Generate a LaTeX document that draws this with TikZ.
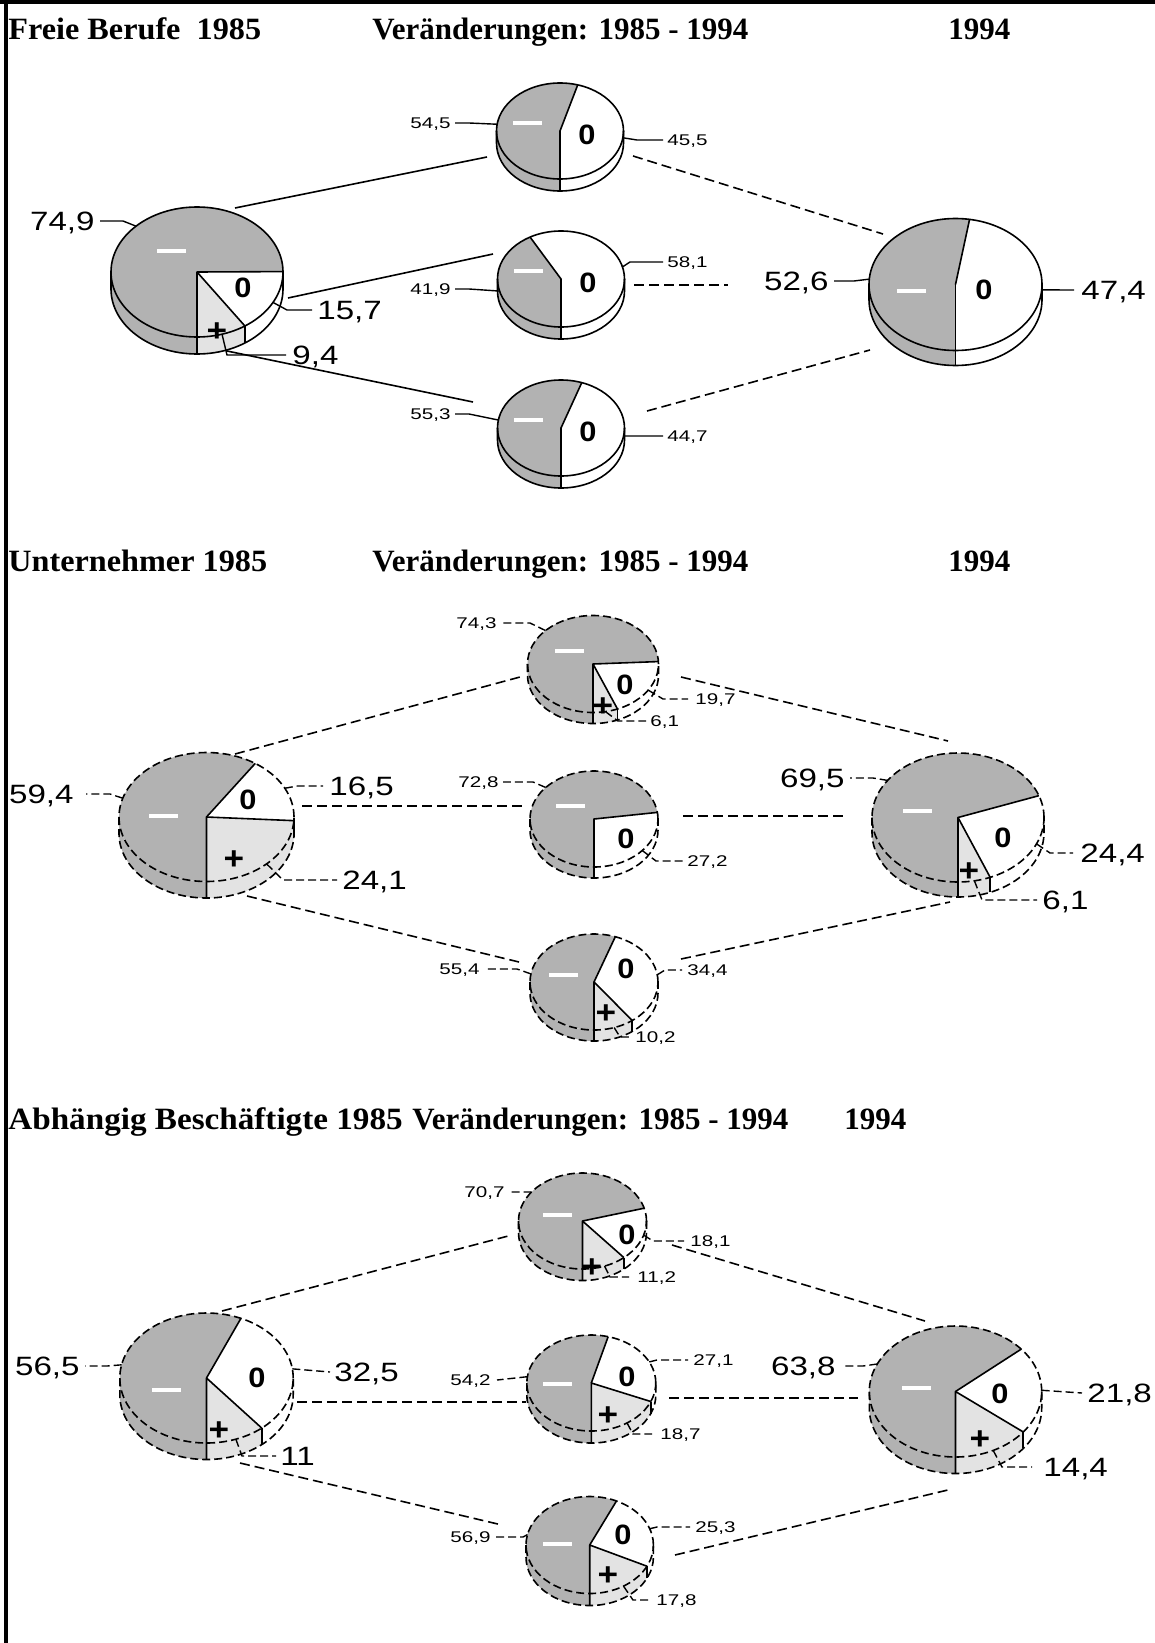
\documentclass[tikz,border=0pt]{standalone}
\usepackage{fontspec}
\setmainfont{Liberation Serif}
\newfontfamily\ttlw[FakeStretch=1.04]{Liberation Serif}
\newfontfamily\ttlww[FakeStretch=1.07]{Liberation Serif}
\newfontfamily\lblfont[FakeStretch=1.25]{Liberation Sans}
\newfontfamily\smlfont[FakeStretch=1.33]{Liberation Sans}
\newfontfamily\glyfont[FakeStretch=1.1]{Liberation Sans}
\usetikzlibrary{calc}
\definecolor{pgray}{RGB}{178,178,178}
\definecolor{plight}{RGB}{227,227,227}
\tikzset{
  ttl/.style={anchor=base west, inner sep=0, font=\fontsize{15.5}{18}\selectfont\bfseries},
  ttlA/.style={ttl, font=\ttlw\fontsize{15.5}{18}\selectfont\bfseries},
  ttlB/.style={ttl, font=\ttlww\fontsize{15.5}{18}\selectfont\bfseries},
  biglbl/.style={inner sep=0, text depth=0pt, font=\lblfont\fontsize{13.25}{15}\selectfont},
  smllbl/.style={inner sep=0, text depth=0pt, font=\smlfont\fontsize{7.75}{9}\selectfont},
  glyph/.style={inner sep=0, text depth=0pt, font=\glyfont\bfseries\fontsize{14}{16}\selectfont},
  pglyph/.style={inner sep=0, text depth=0pt, font=\glyfont\bfseries\fontsize{16}{18}\selectfont},
  mbar/.style={fill=white, inner sep=0, minimum width=14.5pt, minimum height=1.8pt},
  pline/.style={line width=0.8pt, line join=round},
  pdash/.style={dash pattern=on 4pt off 2pt},
  conn/.style={line width=0.8pt},
  dconn/.style={line width=0.8pt, dash pattern=on 5pt off 2.5pt},
  ld/.style={line width=0.7pt},
  dld/.style={line width=0.7pt, dash pattern=on 4pt off 2pt},
}
\newcommand\sidepart[7]{%
  \fill[#4] ($(#1)+(#2:#5 and #6)$) arc[start angle=#2, end angle=#3, x radius=#5, y radius=#6]
    -- ++(0,-#7) arc[start angle=#3, end angle=#2, x radius=#5, y radius=#6] -- cycle;}
% #1 name #2 cx #3 cy #4 a #5 b #6 depth #7 plus% #8 zero% #9 outline style
\newcommand\piechart[9]{%
  \pgfmathsetmacro\pA{-90+3.6*#7}%
  \pgfmathsetmacro\pB{\pA+3.6*#8}%
  \coordinate (#1) at (#2,-#3);
  \sidepart{#1}{-180}{-90}{pgray}{#4}{#5}{#6}
  \ifdim #7pt>0pt \pgfmathsetmacro\pAc{min(\pA,0)}\sidepart{#1}{-90}{\pAc}{plight}{#4}{#5}{#6}\fi
  \ifdim \pA pt<0pt \pgfmathsetmacro\pBc{min(\pB,0)}\sidepart{#1}{\pA}{\pBc}{white}{#4}{#5}{#6}\fi
  \ifdim \pB pt<0pt \sidepart{#1}{\pB}{0}{pgray}{#4}{#5}{#6}\fi
  \fill[pgray] (#1) -- ($(#1)+(\pB:#4 and #5)$) arc[start angle=\pB, end angle=270, x radius=#4, y radius=#5] -- cycle;
  \fill[white] (#1) -- ($(#1)+(\pA:#4 and #5)$) arc[start angle=\pA, end angle=\pB, x radius=#4, y radius=#5] -- cycle;
  \ifdim #7pt>0pt \fill[plight] (#1) -- ($(#1)+(-90:#4 and #5)$) arc[start angle=-90, end angle=\pA, x radius=#4, y radius=#5] -- cycle;\fi
  \draw[pline] ($(#1)+(0,-#5)+(0,-#6)$) -- ($(#1)+(0,-#5)$) -- (#1) -- ($(#1)+(\pA:#4 and #5)$);
  \draw[pline] (#1) -- ($(#1)+(\pB:#4 and #5)$);
  \ifdim \pA pt<0pt \draw[pline] ($(#1)+(\pA:#4 and #5)$) -- ++(0,-#6);\fi
  \ifdim \pB pt<0pt \draw[pline] ($(#1)+(\pB:#4 and #5)$) -- ++(0,-#6);\fi
  \draw[pline,#9] (#1) ellipse [x radius=#4, y radius=#5];
  \draw[pline,#9] ($(#1)+(-#4,0)$) -- ++(0,-#6) arc[start angle=180, end angle=360, x radius=#4, y radius=#5] -- ++(0,#6);
  \pgfmathsetmacro\mM{(\pB+270)/2}%
  \pgfmathsetmacro\mZ{(\pA+\pB)/2}%
  \pgfmathsetmacro\mP{(-90+\pA)/2}%
  \coordinate (#1-m) at ($(#1)+(\mM:#4 and #5)$);
  \coordinate (#1-z) at ($(#1)+(\mZ:#4 and #5)$);
  \coordinate (#1-p) at ($(#1)+(\mP:#4 and #5)$);
}
\begin{document}
\begin{tikzpicture}[x=0.5pt,y=0.5pt]
\useasboundingbox (0,0) rectangle (1155,-1643);
\fill[white] (0,0) rectangle (1155,-1643);
\draw[line width=2pt] (0,-2) -- (1155,-2);
\draw[line width=2pt] (6,0) -- (6,-1643);

% titles
\node[ttlA] (t1a) at (8,-40) {Freie Berufe\ \ 1985};
\node[ttl] (t1b) at (372,-40) {Veränderungen: 1985 - 1994};
\node[ttl] (t1c) at (948,-40) {1994};
\node[ttlA] (t2a) at (8,-571) {Unternehmer 1985};
\node[ttl] (t2b) at (372,-571) {Veränderungen: 1985 - 1994};
\node[ttl] (t2c) at (948,-571) {1994};
\node[ttlB] (t3a) at (8,-1129) {Abhängig Beschäftigte 1985};
\node[ttl] (t3b) at (412,-1129) {Veränderungen: 1985 - 1994};
\node[ttl] (t3c) at (844,-1129) {1994};

% pies
\piechart{aL}{197}{272}{86}{65}{17}{9.4}{15.7}{solid}
\piechart{aT}{560}{131}{63.5}{48}{12}{0}{45.5}{solid}
\piechart{aM}{561}{279}{63.5}{48}{12}{0}{58.1}{solid}
\piechart{aB}{561}{428}{63.5}{48}{12}{0}{44.7}{solid}
\piechart{aR}{955.5}{284.5}{86.5}{66}{15}{0}{47.4}{solid}
\piechart{bL}{206.5}{817}{87.5}{64.5}{16.5}{24.1}{16.5}{pdash}
\piechart{bT}{593}{664}{65.5}{48.5}{11}{6.1}{19.7}{pdash}
\piechart{bM}{594}{819}{64}{48}{11}{0}{27.2}{pdash}
\piechart{bB}{594}{982}{64}{48}{11}{10.2}{34.4}{pdash}
\piechart{bR}{958}{817.5}{86}{64.5}{15}{6.1}{24.4}{pdash}
\piechart{cL}{206.5}{1378}{86.7}{65}{16.5}{11}{32.5}{pdash}
\piechart{cT}{582.5}{1221}{64}{48}{11.5}{11.2}{18.1}{pdash}
\piechart{cM}{591.3}{1383}{64.5}{48}{12}{18.7}{27.1}{pdash}
\piechart{cB}{589.7}{1545}{63.7}{48.5}{12}{17.8}{25.3}{pdash}
\piechart{cR}{955.5}{1391.5}{86.2}{65.5}{16.5}{14.4}{21.8}{pdash}

% slice glyphs
\node[mbar] (aL-g1) at (171,-251) {};
\node[glyph] (aL-g2) at (243,-288) {0};
\node[pglyph] (aL-g3) at (217,-332) {+};
\node[mbar] (aT-g1) at (527,-123) {};
\node[glyph] (aT-g2) at (587,-135) {0};
\node[mbar] (aM-g1) at (528,-271) {};
\node[glyph] (aM-g2) at (588,-283) {0};
\node[mbar] (aB-g1) at (528,-420) {};
\node[glyph] (aB-g2) at (588,-432) {0};
\node[mbar] (aR-g1) at (911.5,-291) {};
\node[glyph] (aR-g2) at (984,-290) {0};

\node[mbar] (bL-g1) at (163.5,-816) {};
\node[glyph] (bL-g2) at (248,-800) {0};
\node[pglyph] (bL-g3) at (234,-860) {+};
\node[mbar] (bT-g1) at (569.5,-651) {};
\node[glyph] (bT-g2) at (625,-685) {0};
\node[pglyph] (bT-g3) at (603,-707) {+};
\node[mbar] (bM-g1) at (570,-806) {};
\node[glyph] (bM-g2) at (626,-839) {0};
\node[mbar] (bB-g1) at (563,-975) {};
\node[glyph] (bB-g2) at (626,-969) {0};
\node[pglyph] (bB-g3) at (606,-1014) {+};
\node[mbar] (bR-g1) at (917.5,-811) {};
\node[glyph] (bR-g2) at (1003,-838) {0};
\node[pglyph] (bR-g3) at (969,-872) {+};

\node[mbar] (cL-g1) at (166,-1390) {};
\node[glyph] (cL-g2) at (257,-1378) {0};
\node[pglyph] (cL-g3) at (219,-1431) {+};
\node[mbar] (cT-g1) at (557.5,-1215) {};
\node[glyph] (cT-g2) at (627,-1235) {0};
\node[pglyph] (cT-g3) at (592,-1268) {+};
\node[mbar] (cM-g1) at (557.5,-1384) {};
\node[glyph] (cM-g2) at (627,-1377) {0};
\node[pglyph] (cM-g3) at (608,-1416) {+};
\node[mbar] (cB-g1) at (557.5,-1544) {};
\node[glyph] (cB-g2) at (623,-1535) {0};
\node[pglyph] (cB-g3) at (608,-1576) {+};
\node[mbar] (cR-g1) at (916,-1388) {};
\node[glyph] (cR-g2) at (1000,-1394) {0};
\node[pglyph] (cR-g3) at (980,-1440) {+};

% connector end points
\coordinate (aL-c1) at (235,-208);  \coordinate (aT-c1) at (487,-157);
\coordinate (aL-c2) at (288,-298);  \coordinate (aM-c1) at (493,-254);
\coordinate (aL-c3) at (227,-351);  \coordinate (aB-c1) at (473,-402);
\coordinate (aT-c2) at (633,-156);  \coordinate (aR-c1) at (883,-234);
\coordinate (aM-c2) at (634,-285);  \coordinate (aR-c2) at (728,-285);
\coordinate (aB-c2) at (647,-411);  \coordinate (aR-c3) at (870,-350);
\draw[conn] (aL-c1) -- (aT-c1);
\draw[conn] (aL-c2) -- (aM-c1);
\draw[conn] (aL-c3) -- (aB-c1);
\draw[dconn] (aT-c2) -- (aR-c1);
\draw[dconn] (aM-c2) -- (aR-c2);
\draw[dconn] (aB-c2) -- (aR-c3);

\coordinate (bL-c1) at (235,-754);  \coordinate (bT-c1) at (520,-677);
\coordinate (bL-c2) at (302,-806);  \coordinate (bM-c1) at (524,-806);
\coordinate (bL-c3) at (247,-896);  \coordinate (bB-c1) at (519,-962);
\coordinate (bT-c2) at (681,-677);  \coordinate (bR-c1) at (948,-741);
\coordinate (bM-c2) at (683,-816);  \coordinate (bR-c2) at (847,-816);
\coordinate (bB-c2) at (681,-959);  \coordinate (bR-c3) at (950,-902);
\draw[dconn] (bL-c1) -- (bT-c1);
\draw[dconn] (bL-c2) -- (bM-c1);
\draw[dconn] (bL-c3) -- (bB-c1);
\draw[dconn] (bT-c2) -- (bR-c1);
\draw[dconn] (bM-c2) -- (bR-c2);
\draw[dconn] (bB-c2) -- (bR-c3);

\coordinate (cL-c1) at (222,-1311); \coordinate (cT-c1) at (512,-1235);
\coordinate (cL-c2) at (297,-1402); \coordinate (cM-c1) at (526,-1402);
\coordinate (cL-c3) at (240,-1463); \coordinate (cB-c1) at (502,-1525);
\coordinate (cT-c2) at (672,-1245); \coordinate (cR-c1) at (925,-1321);
\coordinate (cM-c2) at (669,-1398); \coordinate (cR-c2) at (858,-1398);
\coordinate (cB-c2) at (675,-1555); \coordinate (cR-c3) at (952,-1489);
\draw[dconn] (cL-c1) -- (cT-c1);
\draw[dconn] (cL-c2) -- (cM-c1);
\draw[dconn] (cL-c3) -- (cB-c1);
\draw[dconn] (cT-c2) -- (cR-c1);
\draw[dconn] (cM-c2) -- (cR-c2);
\draw[dconn] (cB-c2) -- (cR-c3);

% value labels, section 1
\node[biglbl, anchor=east] (l749) at (95,-221) {74,9};
\node[biglbl, anchor=west] (l157) at (317,-310) {15,7};
\node[biglbl, anchor=west] (l94) at (292,-355) {9,4};
\node[smllbl, anchor=east] (l545) at (451,-123) {54,5};
\node[smllbl, anchor=west] (l455) at (667,-140) {45,5};
\node[smllbl, anchor=east] (l419) at (451,-289) {41,9};
\node[smllbl, anchor=west] (l581) at (667,-262) {58,1};
\node[smllbl, anchor=east] (l553) at (451,-414) {55,3};
\node[smllbl, anchor=west] (l447) at (667,-436) {44,7};
\node[biglbl, anchor=east] (l526) at (829,-281) {52,6};
\node[biglbl, anchor=west] (l474) at (1081,-290) {47,4};
\draw[ld] (aL-m) -- ($(l749.east)+(28,0)$) -- ($(l749.east)+(5,0)$);
\draw[ld] (aL-z) -- ($(l157.west)+(-30,0)$) -- ($(l157.west)+(-5,0)$);
\draw[ld] (aL-p) -- ($(l94.west)+(-65,0)$) -- ($(l94.west)+(-6,0)$);
\draw[ld] (aT-m) -- ($(l545.east)+(18,0)$) -- ($(l545.east)+(4,0)$);
\draw[ld] (aT-z) -- ($(l455.west)+(-30,0)$) -- ($(l455.west)+(-4,0)$);
\draw[ld] (aM-m) -- ($(l419.east)+(18,0)$) -- ($(l419.east)+(4,0)$);
\draw[ld] (aM-z) -- ($(l581.west)+(-37,0)$) -- ($(l581.west)+(-4,0)$);
\draw[ld] (aB-m) -- ($(l553.east)+(18,0)$) -- ($(l553.east)+(4,0)$);
\draw[ld] (aB-z) -- ($(l447.west)+(-30,0)$) -- ($(l447.west)+(-4,0)$);
\draw[ld] (aR-m) -- ($(l526.east)+(25,0)$) -- ($(l526.east)+(5,0)$);
\draw[ld] (aR-z) -- ($(l474.west)+(-7,0)$);

% section 2
\node[biglbl, anchor=east] (l594) at (74,-794) {59,4};
\node[biglbl, anchor=west] (l165) at (329,-786) {16,5};
\node[biglbl, anchor=west] (l241) at (342,-880) {24,1};
\node[smllbl, anchor=east] (l743) at (497,-623) {74,3};
\node[smllbl, anchor=west] (l197) at (695,-699) {19,7};
\node[smllbl, anchor=west] (l61s) at (650,-721) {6,1};
\node[smllbl, anchor=east] (l728) at (499,-782) {72,8};
\node[smllbl, anchor=west] (l272) at (687,-861) {27,2};
\node[biglbl, anchor=east] (l695) at (845,-778) {69,5};
\node[biglbl, anchor=west] (l244) at (1080,-853) {24,4};
\node[biglbl, anchor=west] (l61b) at (1042,-900) {6,1};
\node[smllbl, anchor=east] (l554) at (480,-969) {55,4};
\node[smllbl, anchor=west] (l344) at (687,-970) {34,4};
\node[smllbl, anchor=west] (l102) at (635,-1037) {10,2};
\draw[dld] (bL-m) -- ($(l594.east)+(36,0)$) -- ($(l594.east)+(12,0)$);
\draw[dld] (bL-z) -- ($(l165.west)+(-32,0)$) -- ($(l165.west)+(-6,0)$);
\draw[dld] (bL-p) -- ($(l241.west)+(-59,0)$) -- ($(l241.west)+(-5,0)$);
\draw[dld] (bT-m) -- ($(l743.east)+(33,0)$) -- ($(l743.east)+(3,0)$);
\draw[dld] (bT-z) -- ($(l197.west)+(-32,0)$) -- ($(l197.west)+(-7,0)$);
\draw[dld] (bT-p) -- ($(l61s.west)+(-32,0)$) -- ($(l61s.west)+(-4,0)$);
\draw[dld] (bM-m) -- ($(l728.east)+(34,0)$) -- ($(l728.east)+(4,0)$);
\draw[dld] (bM-z) -- ($(l272.west)+(-31,0)$) -- ($(l272.west)+(-4,0)$);
\draw[dld] (bR-m) -- ($(l695.east)+(28,0)$) -- ($(l695.east)+(5,0)$);
\draw[dld] (bR-z) -- ($(l244.west)+(-30,0)$) -- ($(l244.west)+(-7,0)$);
\draw[dld] (bR-p) -- ($(l61b.west)+(-60,0)$) -- ($(l61b.west)+(-5,0)$);
\draw[dld] (bB-m) -- ($(l554.east)+(37,0)$) -- ($(l554.east)+(4,0)$);
\draw[dld] (bB-z) -- ($(l344.west)+(-22,0)$) -- ($(l344.west)+(-5,0)$);
\draw[dld] (bB-p) -- ($(l102.west)+(-15,0)$) -- ($(l102.west)+(-4,0)$);

% section 3
\node[biglbl, anchor=east] (l565) at (80,-1366) {56,5};
\node[biglbl, anchor=west] (l325) at (334,-1372) {32,5};
\node[biglbl, anchor=west] (l11) at (280,-1456) {11};
\node[smllbl, anchor=east] (l707) at (505,-1192) {70,7};
\node[smllbl, anchor=west] (l181) at (690,-1241) {18,1};
\node[smllbl, anchor=west] (l112) at (637,-1277) {11,2};
\node[smllbl, anchor=east] (l542) at (491,-1380) {54,2};
\node[smllbl, anchor=west] (l271) at (693,-1360) {27,1};
\node[smllbl, anchor=west] (l187) at (660,-1434) {18,7};
\node[biglbl, anchor=east] (l638) at (836,-1366) {63,8};
\node[biglbl, anchor=west] (l218) at (1087,-1393) {21,8};
\node[biglbl, anchor=west] (l144) at (1043,-1467) {14,4};
\node[smllbl, anchor=east] (l569) at (491,-1537) {56,9};
\node[smllbl, anchor=west] (l253) at (695,-1527) {25,3};
\node[smllbl, anchor=west] (l178) at (656,-1600) {17,8};
\draw[dld] (cL-m) -- ($(l565.east)+(27,0)$) -- ($(l565.east)+(5,0)$);
\draw[dld] (cL-z) -- ($(l325.west)+(-4,0)$);
\draw[dld] (cL-p) -- ($(l11.west)+(-38,0)$) -- ($(l11.west)+(-4,0)$);
\draw[dld] (cT-m) -- ($(l707.east)+(24,0)$) -- ($(l707.east)+(3,0)$);
\draw[dld] (cT-z) -- ($(l181.west)+(-37,0)$) -- ($(l181.west)+(-6,0)$);
\draw[dld] (cT-p) -- ($(l112.west)+(-27,0)$) -- ($(l112.west)+(-8,0)$);
\draw[dld] (cM-m) -- ($(l542.east)+(6,0)$);
\draw[dld] (cM-z) -- ($(l271.west)+(-36,0)$) -- ($(l271.west)+(-5,0)$);
\draw[dld] (cM-p) -- ($(l187.west)+(-27,0)$) -- ($(l187.west)+(-8,0)$);
\draw[dld] (cR-m) -- ($(l638.east)+(27,0)$) -- ($(l638.east)+(9,0)$);
\draw[dld] (cR-z) -- ($(l218.west)+(-5,0)$);
\draw[dld] (cR-p) -- ($(l144.west)+(-41,0)$) -- ($(l144.west)+(-11,0)$);
\draw[dld] (cB-m) -- ($(l569.east)+(32,0)$) -- ($(l569.east)+(5,0)$);
\draw[dld] (cB-z) -- ($(l253.west)+(-38,0)$) -- ($(l253.west)+(-5,0)$);
\draw[dld] (cB-p) -- ($(l178.west)+(-23,0)$) -- ($(l178.west)+(-6,0)$);
\end{tikzpicture}
\end{document}
